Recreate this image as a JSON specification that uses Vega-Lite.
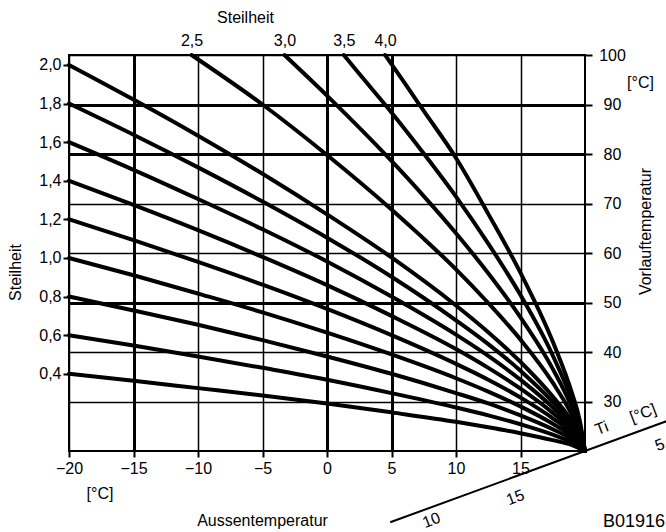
{
  "$schema": "https://vega.github.io/schema/vega-lite/v6.json",
  "width": 516,
  "height": 396,
  "autosize": {"type": "none"},
  "padding": {"left": 69, "top": 55, "right": 81, "bottom": 81},
  "background": "white",
  "config": {
    "view": {"stroke": "black", "strokeWidth": 2},
    "axis": {
      "labelFont": "Liberation Sans", "titleFont": "Liberation Sans",
      "labelFontSize": 16, "titleFontSize": 16, "labelColor": "black", "titleColor": "black",
      "titleFontWeight": "normal", "tickColor": "black", "tickWidth": 2, "domain": false,
      "gridColor": "black", "gridOpacity": 1, "labelFlush": false, "labelOverlap": false
    },
    "text": {"font": "Liberation Sans", "fontSize": 16, "color": "black"}
  },
  "datasets": {
    "curves": [
      {"s": "0,4", "T": -20, "V": 35.6}, {"s": "0,4", "T": -15, "V": 34.2}, {"s": "0,4", "T": -10, "V": 32.7}, {"s": "0,4", "T": -5, "V": 31.2}, {"s": "0,4", "T": 0, "V": 29.6}, {"s": "0,4", "T": 5, "V": 27.8}, {"s": "0,4", "T": 10, "V": 25.9}, {"s": "0,4", "T": 12.5, "V": 24.8}, {"s": "0,4", "T": 15, "V": 23.6}, {"s": "0,4", "T": 17.5, "V": 22.2}, {"s": "0,4", "T": 19, "V": 21.2}, {"s": "0,4", "T": 20, "V": 20},
      {"s": "0,6", "T": -20, "V": 43.4}, {"s": "0,6", "T": -15, "V": 41.3}, {"s": "0,6", "T": -10, "V": 39.1}, {"s": "0,6", "T": -5, "V": 36.8}, {"s": "0,6", "T": 0, "V": 34.4}, {"s": "0,6", "T": 5, "V": 31.7}, {"s": "0,6", "T": 10, "V": 28.8}, {"s": "0,6", "T": 12.5, "V": 27.2}, {"s": "0,6", "T": 15, "V": 25.4}, {"s": "0,6", "T": 17.5, "V": 23.3}, {"s": "0,6", "T": 19, "V": 21.7}, {"s": "0,6", "T": 20, "V": 20},
      {"s": "0,8", "T": -20, "V": 51.2}, {"s": "0,8", "T": -15, "V": 48.4}, {"s": "0,8", "T": -10, "V": 45.5}, {"s": "0,8", "T": -5, "V": 42.4}, {"s": "0,8", "T": 0, "V": 39.1}, {"s": "0,8", "T": 5, "V": 35.6}, {"s": "0,8", "T": 10, "V": 31.7}, {"s": "0,8", "T": 12.5, "V": 29.6}, {"s": "0,8", "T": 15, "V": 27.2}, {"s": "0,8", "T": 17.5, "V": 24.4}, {"s": "0,8", "T": 19, "V": 22.3}, {"s": "0,8", "T": 20, "V": 20},
      {"s": "1,0", "T": -20, "V": 59.0}, {"s": "1,0", "T": -15, "V": 55.5}, {"s": "1,0", "T": -10, "V": 51.8}, {"s": "1,0", "T": -5, "V": 48.0}, {"s": "1,0", "T": 0, "V": 43.9}, {"s": "1,0", "T": 5, "V": 39.5}, {"s": "1,0", "T": 10, "V": 34.7}, {"s": "1,0", "T": 12.5, "V": 32.0}, {"s": "1,0", "T": 15, "V": 29.0}, {"s": "1,0", "T": 17.5, "V": 25.5}, {"s": "1,0", "T": 19, "V": 22.9}, {"s": "1,0", "T": 20, "V": 20},
      {"s": "1,2", "T": -20, "V": 66.8}, {"s": "1,2", "T": -15, "V": 62.6}, {"s": "1,2", "T": -10, "V": 58.2}, {"s": "1,2", "T": -5, "V": 53.6}, {"s": "1,2", "T": 0, "V": 48.7}, {"s": "1,2", "T": 5, "V": 43.4}, {"s": "1,2", "T": 10, "V": 37.6}, {"s": "1,2", "T": 12.5, "V": 34.4}, {"s": "1,2", "T": 15, "V": 30.8}, {"s": "1,2", "T": 17.5, "V": 26.6}, {"s": "1,2", "T": 19, "V": 23.5}, {"s": "1,2", "T": 20, "V": 20},
      {"s": "1,4", "T": -20, "V": 74.6}, {"s": "1,4", "T": -15, "V": 69.7}, {"s": "1,4", "T": -10, "V": 64.6}, {"s": "1,4", "T": -5, "V": 59.2}, {"s": "1,4", "T": 0, "V": 53.5}, {"s": "1,4", "T": 5, "V": 47.3}, {"s": "1,4", "T": 10, "V": 40.6}, {"s": "1,4", "T": 12.5, "V": 36.8}, {"s": "1,4", "T": 15, "V": 32.6}, {"s": "1,4", "T": 17.5, "V": 27.7}, {"s": "1,4", "T": 19, "V": 24.1}, {"s": "1,4", "T": 20, "V": 20},
      {"s": "1,6", "T": -20, "V": 82.4}, {"s": "1,6", "T": -15, "V": 76.8}, {"s": "1,6", "T": -10, "V": 70.9}, {"s": "1,6", "T": -5, "V": 64.8}, {"s": "1,6", "T": 0, "V": 58.3}, {"s": "1,6", "T": 5, "V": 51.2}, {"s": "1,6", "T": 10, "V": 43.5}, {"s": "1,6", "T": 12.5, "V": 39.2}, {"s": "1,6", "T": 15, "V": 34.4}, {"s": "1,6", "T": 17.5, "V": 28.8}, {"s": "1,6", "T": 19, "V": 24.6}, {"s": "1,6", "T": 20, "V": 20},
      {"s": "1,8", "T": -20, "V": 90.2}, {"s": "1,8", "T": -15, "V": 83.9}, {"s": "1,8", "T": -10, "V": 77.3}, {"s": "1,8", "T": -5, "V": 70.4}, {"s": "1,8", "T": 0, "V": 63.1}, {"s": "1,8", "T": 5, "V": 55.2}, {"s": "1,8", "T": 10, "V": 46.4}, {"s": "1,8", "T": 12.5, "V": 41.6}, {"s": "1,8", "T": 15, "V": 36.2}, {"s": "1,8", "T": 17.5, "V": 29.9}, {"s": "1,8", "T": 19, "V": 25.2}, {"s": "1,8", "T": 20, "V": 20},
      {"s": "2,0", "T": -20, "V": 98.0}, {"s": "2,0", "T": -15, "V": 91.0}, {"s": "2,0", "T": -10, "V": 83.7}, {"s": "2,0", "T": -5, "V": 76.0}, {"s": "2,0", "T": 0, "V": 67.8}, {"s": "2,0", "T": 5, "V": 59.1}, {"s": "2,0", "T": 10, "V": 49.4}, {"s": "2,0", "T": 12.5, "V": 44.0}, {"s": "2,0", "T": 15, "V": 38.0}, {"s": "2,0", "T": 17.5, "V": 31.0}, {"s": "2,0", "T": 19, "V": 25.8}, {"s": "2,0", "T": 20, "V": 20},
      {"s": "2,5", "T": -10.5, "V": 100}, {"s": "2,5", "T": -5, "V": 90.0}, {"s": "2,5", "T": 0, "V": 79.8}, {"s": "2,5", "T": 5, "V": 68.8}, {"s": "2,5", "T": 7.5, "V": 62.9}, {"s": "2,5", "T": 10, "V": 56.7}, {"s": "2,5", "T": 12.5, "V": 49.9}, {"s": "2,5", "T": 15, "V": 42.5}, {"s": "2,5", "T": 17.5, "V": 33.8}, {"s": "2,5", "T": 19, "V": 27.2}, {"s": "2,5", "T": 19.6, "V": 23.8}, {"s": "2,5", "T": 20, "V": 20},
      {"s": "3,0", "T": -3.3, "V": 100}, {"s": "3,0", "T": 0, "V": 91.8}, {"s": "3,0", "T": 5, "V": 78.6}, {"s": "3,0", "T": 7.5, "V": 71.5}, {"s": "3,0", "T": 10, "V": 64.0}, {"s": "3,0", "T": 12.5, "V": 55.9}, {"s": "3,0", "T": 15, "V": 47.0}, {"s": "3,0", "T": 17.5, "V": 36.6}, {"s": "3,0", "T": 19, "V": 28.7}, {"s": "3,0", "T": 19.6, "V": 24.6}, {"s": "3,0", "T": 20, "V": 20},
      {"s": "3,5", "T": 1.3, "V": 100}, {"s": "3,5", "T": 2.5, "V": 96.2}, {"s": "3,5", "T": 5, "V": 88.4}, {"s": "3,5", "T": 7.5, "V": 80.1}, {"s": "3,5", "T": 10, "V": 71.4}, {"s": "3,5", "T": 12.5, "V": 61.9}, {"s": "3,5", "T": 15, "V": 51.5}, {"s": "3,5", "T": 17.5, "V": 39.3}, {"s": "3,5", "T": 19, "V": 30.1}, {"s": "3,5", "T": 19.6, "V": 25.3}, {"s": "3,5", "T": 20, "V": 20},
      {"s": "4,0", "T": 4.5, "V": 100}, {"s": "4,0", "T": 6, "V": 94.4}, {"s": "4,0", "T": 7.5, "V": 88.7}, {"s": "4,0", "T": 10, "V": 79.2}, {"s": "4,0", "T": 12.5, "V": 67.9}, {"s": "4,0", "T": 15, "V": 56.0}, {"s": "4,0", "T": 17.5, "V": 42.1}, {"s": "4,0", "T": 19, "V": 31.6}, {"s": "4,0", "T": 19.6, "V": 26.1}, {"s": "4,0", "T": 20, "V": 20}
    ],
    "tiAxis": [
      {"T": 4.9, "V": 5.6}, {"T": 20, "V": 20}, {"T": 26.3, "V": 26.0}
    ],
    "notes": [
      {"label": "[°C]", "T": -17.6, "V": 11.4},
      {"label": "[°C]", "T": 24.3, "V": 94.3}
    ],
    "code": [
      {"label": "B01916", "T": 23.8, "V": 5.6}
    ],
    "tiNotes": [
      {"label": "Ti", "T": 21.3, "V": 24.6},
      {"label": "[°C]", "T": 24.5, "V": 27.6},
      {"label": "5", "T": 25.8, "V": 21.2},
      {"label": "15", "T": 14.6, "V": 10.6},
      {"label": "10", "T": 8.1, "V": 6.0}
    ]
  },
  "layer": [
    {
      "data": {"name": "curves"},
      "mark": {"type": "line", "color": "black", "strokeWidth": 4, "interpolate": "monotone", "strokeCap": "round"},
      "encoding": {
        "x": {
          "field": "T", "type": "quantitative",
          "scale": {"domain": [-20, 20], "nice": false, "zero": false},
          "axis": {
            "orient": "bottom", "values": [-20, -15, -10, -5, 0, 5, 10, 15],
            "tickSize": 6, "labelPadding": 3, "grid": true,
            "gridWidth": {"condition": {"test": "datum.value == -15 || datum.value == 0 || datum.value == 5", "value": 3}, "value": 1.5},
            "title": "Aussentemperatur", "titleX": 193, "titleY": 69, "titleAlign": "center", "titleBaseline": "middle"
          }
        },
        "y": {
          "field": "V", "type": "quantitative",
          "scale": {"domain": [20, 100], "nice": false, "zero": false},
          "axis": {
            "orient": "right", "values": [30, 40, 50, 60, 70, 80, 90, 100],
            "tickSize": 7, "labelPadding": 20, "labelAlign": "center", "labelBaseline": "middle", "grid": true,
            "gridWidth": {"condition": {"test": "datum.value == 50 || datum.value == 80 || datum.value == 90", "value": 3}, "value": 1.5},
            "title": "Vorlauftemperatur", "titleAngle": 270, "titleX": 60, "titleY": 176, "titleAlign": "center", "titleBaseline": "middle"
          }
        },
        "detail": {"field": "s", "type": "nominal"}
      }
    },
    {
      "data": {"name": "tiAxis"},
      "mark": {"type": "line", "color": "black", "strokeWidth": 2},
      "encoding": {
        "x": {
          "field": "T", "type": "quantitative",
          "scale": {"domain": [-20, 20], "nice": false, "zero": false},
          "axis": {
            "orient": "top", "values": [-10.5, -3.3, 1.3, 4.5], "ticks": false, "tickSize": 0, "labelPadding": 7, "grid": false,
            "labelExpr": "datum.value < -5 ? '2,5' : datum.value < 0 ? '3,0' : datum.value < 3 ? '3,5' : '4,0'",
            "title": "Steilheit", "titleX": 176, "titleY": -38, "titleAlign": "center", "titleBaseline": "middle"
          }
        },
        "y": {
          "field": "V", "type": "quantitative",
          "scale": {"domain": [20, 100], "nice": false, "zero": false},
          "axis": {
            "orient": "left", "values": [98, 90.2, 82.4, 74.6, 66.8, 59, 51.2, 43.4, 35.6],
            "tickSize": 6, "labelPadding": 2, "grid": false, "labelBaseline": "middle",
            "labelExpr": "replace(format((datum.value - 20) / 39, '.1f'), '.', ',')",
            "title": "Steilheit", "titleAngle": 270, "titleX": -54, "titleY": 217, "titleAlign": "center", "titleBaseline": "middle"
          }
        }
      }
    },
    {
      "data": {"name": "notes"},
      "mark": {"type": "text", "align": "center", "baseline": "middle", "fontSize": 16},
      "encoding": {
        "x": {"field": "T", "type": "quantitative", "scale": {"domain": [-20, 20], "nice": false, "zero": false}, "axis": null},
        "y": {"field": "V", "type": "quantitative", "scale": {"domain": [20, 100], "nice": false, "zero": false}, "axis": null},
        "text": {"field": "label"}
      }
    },
    {
      "data": {"name": "code"},
      "mark": {"type": "text", "align": "center", "baseline": "middle", "fontSize": 18},
      "encoding": {
        "x": {"field": "T", "type": "quantitative", "scale": {"domain": [-20, 20], "nice": false, "zero": false}, "axis": null},
        "y": {"field": "V", "type": "quantitative", "scale": {"domain": [20, 100], "nice": false, "zero": false}, "axis": null},
        "text": {"field": "label"}
      }
    },
    {
      "data": {"name": "tiNotes"},
      "mark": {"type": "text", "align": "center", "baseline": "middle", "fontSize": 16, "angle": 339},
      "encoding": {
        "x": {"field": "T", "type": "quantitative", "scale": {"domain": [-20, 20], "nice": false, "zero": false}, "axis": null},
        "y": {"field": "V", "type": "quantitative", "scale": {"domain": [20, 100], "nice": false, "zero": false}, "axis": null},
        "text": {"field": "label"}
      }
    }
  ],
  "resolve": {"axis": {"x": "independent", "y": "independent"}}
}
